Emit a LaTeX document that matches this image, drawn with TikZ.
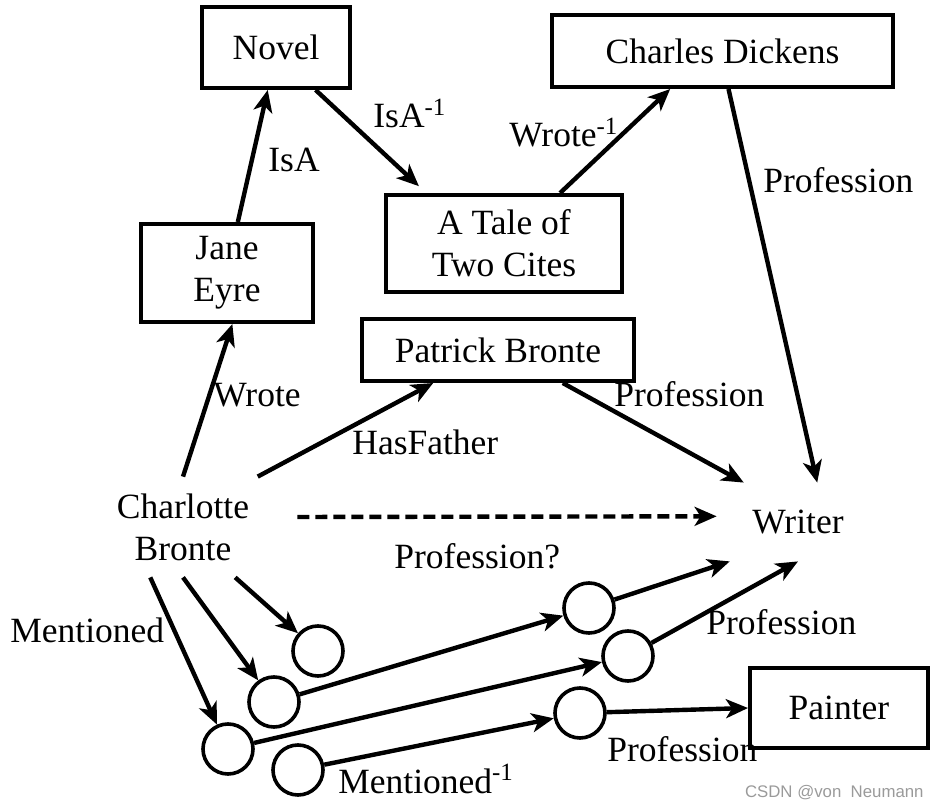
\documentclass[tikz,border=0pt]{standalone}
\usepackage{fontspec}
\setmainfont{Liberation Serif}
\newfontfamily\wmfont{Liberation Sans}
\usepackage{xcolor}
\usepackage{tikz}
\usetikzlibrary{arrows.meta}
\definecolor{wmgray}{HTML}{9A9A9A}
\tikzset{
    entity/.style={
        draw,
        line width=2pt,
        inner sep=0pt,
        align=center
    },
    anon/.style={
        draw,
        circle,
        line width=1.8pt,
        minimum size=25pt,
        inner sep=0pt
    },
    rel/.style={
        anchor=base west,
        inner sep=0pt
    },
    link/.style={
        line width=2.2pt,
        -{Stealth[length=11pt,width=9.5pt,inset=3pt]}
    },
    every node/.style={
        font=\fontsize{17.75}{21}\selectfont
    }
}

\begin{document}
\begin{tikzpicture}[x=0.5pt, y=-0.5pt]
\useasboundingbox (0,0) rectangle (939,808);

% entities
\node[entity, minimum width=74pt, minimum height=40.5pt] (nov) at (276,47.5) {Novel};
\node[entity, minimum width=170.5pt, minimum height=36pt] (dic) at (722.5,51) {Charles Dickens};
\node[entity, minimum width=118pt, minimum height=48.5pt] (tal) at (504,243.5) {A Tale of\\Two Cites};
\node[entity, minimum width=86pt, minimum height=49pt] (jan) at (227,273) {Jane\\Eyre};
\node[entity, minimum width=136pt, minimum height=31pt] (pat) at (498,350) {Patrick Bronte};
\node[entity, minimum width=89pt, minimum height=40pt] (pai) at (839,708) {Painter};
\node[align=center, inner sep=0pt, minimum width=114pt, minimum height=50pt] (cha) at (183,527) {Charlotte\\Bronte};
\node[inner sep=0pt, minimum width=81pt, minimum height=39pt] (wri) at (798,522) {Writer};

% mentioned entities
\node[anon] (m1) at (318,651) {};
\node[anon] (m2) at (274,702) {};
\node[anon] (m3) at (228,749) {};
\node[anon] (m4) at (298,770) {};
\node[anon] (m5) at (589,608) {};
\node[anon] (m6) at (628,656) {};
\node[anon] (m7) at (580,713) {};

% relations
\draw[link] (jan.78) -- (nov.-101);
\draw[link, shorten >=5pt] (nov.-47) -- (tal.147);
\draw[link] (tal.42) -- (dic.-144);
\draw[link] (dic.-81) -- (wri.64);
\draw[link] (cha.north) -- (jan.-84);
\draw[link] (cha.34) -- (pat.-153);
\draw[link] (pat.-27) -- (wri.144);
\draw[link, dash pattern=on 6pt off 3pt] (cha.5) -- (wri.176);
\draw[link] (cha.-44) -- (m1);
\draw[link] (cha.south) -- (m2);
\draw[link] (cha.-123) -- (m3);
\draw[link] (m2) -- (m5);
\draw[link] (m5) -- (wri.-150);
\draw[link] (m3) -- (m6);
\draw[link] (m6) -- (wri.south);
\draw[link] (m4) -- (m7);
\draw[link] (m7) -- (pai.west);

% labels
\node[rel] (isa) at (268,172) {IsA};
\node[rel] (isainv) at (373,128) {IsA\textsuperscript{-1}};
\node[rel] (wroinv) at (509,147) {Wrote\textsuperscript{-1}};
\node[rel] (prodic) at (763,193) {Profession};
\node[rel] (wro) at (213,407) {Wrote};
\node[rel] (hasfa) at (352,455) {HasFather};
\node[rel] (propat) at (614,407) {Profession};
\node[rel] (proq) at (394,568) {Profession?};
\node[rel] (men) at (10,642) {Mentioned};
\node[rel] (meninv) at (338,793) {Mentioned\textsuperscript{-1}};
\node[rel] (prowri) at (706,634) {Profession};
\node[rel] (propai) at (607,761) {Profession};
\node[anchor=base east, inner sep=0pt, text=wmgray, font=\wmfont\fontsize{8.4}{10}\selectfont] (wm) at (924,797) {CSDN @von\ \ Neumann};
\end{tikzpicture}
\end{document}
